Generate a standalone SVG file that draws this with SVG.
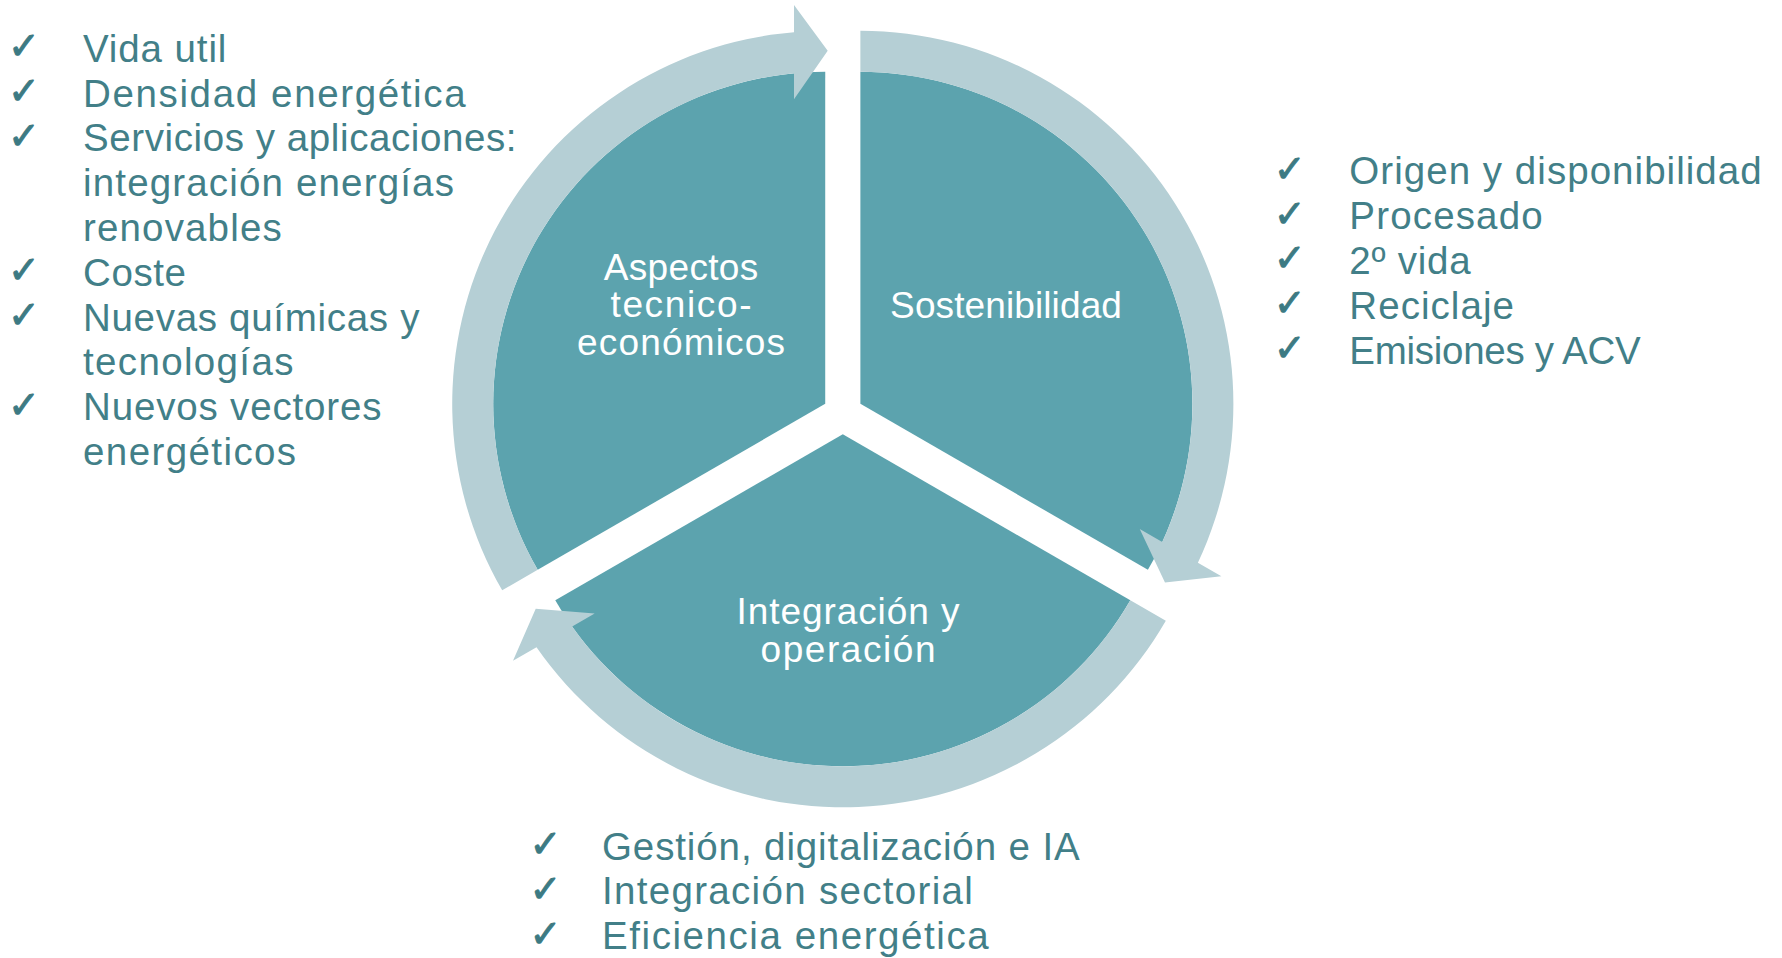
<svg xmlns="http://www.w3.org/2000/svg" width="1782" height="958" viewBox="0 0 1782 958">
<style>
.sec{fill:#5CA3AE}
.arr{fill:#B5CFD5}
.lbl{font-family:"Liberation Sans",Arial,sans-serif;font-size:37px;fill:#FFFFFF;text-anchor:middle}
.lst{font-family:"Liberation Sans",Arial,sans-serif;font-size:38.5px;fill:#427F88}
.chk{font-family:"DejaVu Sans",sans-serif;font-size:38px;fill:#3C7A83;stroke:#3C7A83;stroke-width:1}
</style>
<rect width="1782" height="958" fill="#FFFFFF"/>
<defs>
<path id="sector" d="M 825.22 403.85 L 825.22 71.85 A 332 332 0 0 0 537.7 569.85 Z"/>
<path id="arrow" d="M 502.2 590.35 A 373 373 0 0 1 794 32.15 L 794 5 L 827.7 50.7 L 794 99.3 L 794 73.3 A 332 332 0 0 0 537.7 569.85 Z"/>
</defs>
<g id="node-aspectos">
<use href="#sector" class="sec"/>
<text class="lbl" x="681" y="279.9" textLength="154.5" lengthAdjust="spacing">Aspectos</text>
<text class="lbl" x="681" y="317.4" textLength="141" lengthAdjust="spacing">tecnico-</text>
<text class="lbl" x="681" y="354.9" textLength="208" lengthAdjust="spacing">económicos</text>
</g>
<g id="node-sostenibilidad">
<use href="#sector" class="sec" transform="rotate(120 842.8 414)"/>
<text class="lbl" x="1006" y="317.5" textLength="231.8" lengthAdjust="spacing">Sostenibilidad</text>
</g>
<g id="node-integracion">
<use href="#sector" class="sec" transform="rotate(240 842.8 414)"/>
<text class="lbl" x="848" y="624" textLength="223" lengthAdjust="spacing">Integración y</text>
<text class="lbl" x="848" y="661.5" textLength="175" lengthAdjust="spacing">operación</text>
</g>
<g id="connectors">
<use href="#arrow" class="arr"/>
<use href="#arrow" class="arr" transform="rotate(120 842.8 414)"/>
<use href="#arrow" class="arr" transform="rotate(240 842.8 414)"/>
</g>
<g id="list-tecnico">
<text class="chk" x="8.1" y="59.2">✓</text>
<text class="chk" x="8.1" y="104">✓</text>
<text class="chk" x="8.1" y="148.8">✓</text>
<text class="chk" x="8.1" y="283.2">✓</text>
<text class="chk" x="8.1" y="328">✓</text>
<text class="chk" x="8.1" y="417.6">✓</text>
<text class="lst" x="83" y="61.7" textLength="143.4" lengthAdjust="spacing">Vida util</text>
<text class="lst" x="83" y="106.5" textLength="382.6" lengthAdjust="spacing">Densidad energética</text>
<text class="lst" x="83" y="151.3" textLength="433.5" lengthAdjust="spacing">Servicios y aplicaciones:</text>
<text class="lst" x="83" y="196.1" textLength="370.9" lengthAdjust="spacing">integración energías</text>
<text class="lst" x="83" y="240.9" textLength="198.7" lengthAdjust="spacing">renovables</text>
<text class="lst" x="83" y="285.7" textLength="103" lengthAdjust="spacing">Coste</text>
<text class="lst" x="83" y="330.5" textLength="336.4" lengthAdjust="spacing">Nuevas químicas y</text>
<text class="lst" x="83" y="375.3" textLength="210.4" lengthAdjust="spacing">tecnologías</text>
<text class="lst" x="83" y="420.1" textLength="298.5" lengthAdjust="spacing">Nuevos vectores</text>
<text class="lst" x="83" y="464.9" textLength="213.1" lengthAdjust="spacing">energéticos</text>
</g>
<g id="list-sostenibilidad">
<text class="chk" x="1273.7" y="181.8">✓</text>
<text class="chk" x="1273.7" y="226.6">✓</text>
<text class="chk" x="1273.7" y="271.4">✓</text>
<text class="chk" x="1273.7" y="316.2">✓</text>
<text class="chk" x="1273.7" y="361">✓</text>
<text class="lst" x="1349.3" y="184.3" textLength="412.4" lengthAdjust="spacing">Origen y disponibilidad</text>
<text class="lst" x="1349.3" y="229.1" textLength="193.4" lengthAdjust="spacing">Procesado</text>
<text class="lst" x="1349.3" y="273.9" textLength="121.4" lengthAdjust="spacing">2º vida</text>
<text class="lst" x="1349.3" y="318.7" textLength="164.7" lengthAdjust="spacing">Reciclaje</text>
<text class="lst" x="1349.3" y="363.5" textLength="291.4" lengthAdjust="spacing">Emisiones y ACV</text>
</g>
<g id="list-integracion">
<text class="chk" x="529.4" y="857">✓</text>
<text class="chk" x="529.4" y="901.8">✓</text>
<text class="chk" x="529.4" y="946.6">✓</text>
<text class="lst" x="602" y="859.5" textLength="477.7" lengthAdjust="spacing">Gestión, digitalización e IA</text>
<text class="lst" x="602" y="904.3" textLength="370.8" lengthAdjust="spacing">Integración sectorial</text>
<text class="lst" x="602" y="949.1" textLength="386.7" lengthAdjust="spacing">Eficiencia energética</text>
</g>
</svg>
